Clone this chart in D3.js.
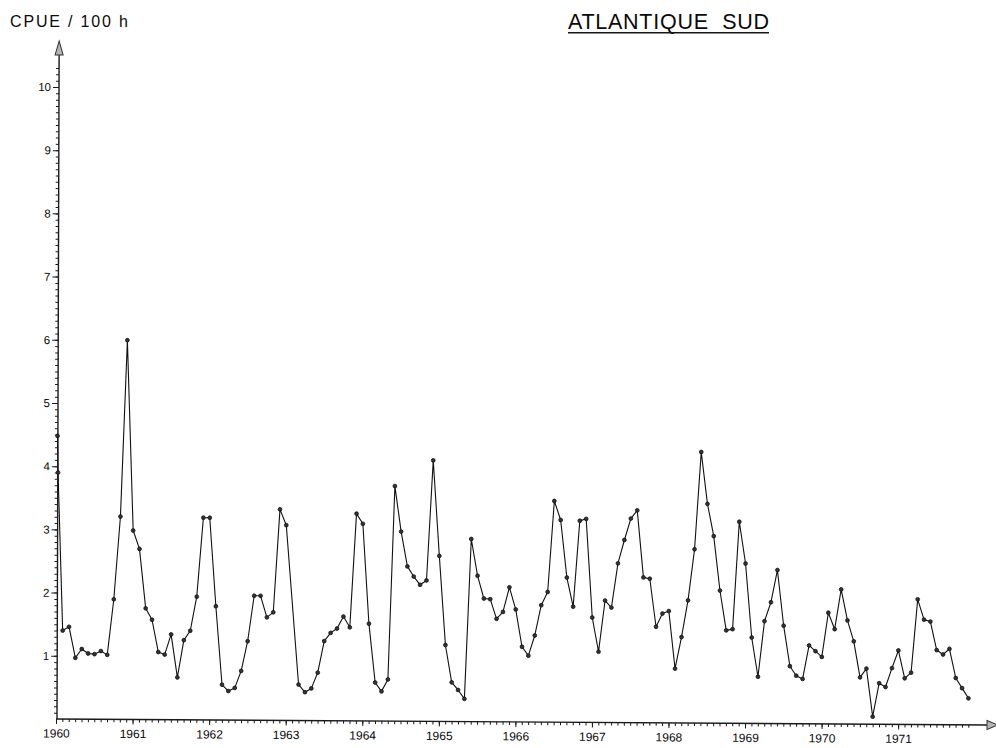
<!DOCTYPE html>
<html><head><meta charset="utf-8">
<script src="https://cdn.jsdelivr.net/npm/d3@7"></script>
<style>
body{margin:0;background:#fff}
svg text{font-family:"Liberation Sans",Arial,sans-serif;fill:#0a0a0a}
</style>
</head><body>
<svg id="chart" width="996" height="748"></svg>
<script>
// ---- data (CPUE per 100 h, monthly, Atlantique Sud) ----
const yearLabels = ["1960","1961","1962","1963","1964","1965","1966","1967","1968","1969","1970","1971"];
const leadValues = [4.48, 3.90];          // two readings drawn on the 1960 origin
const leadMonths = [0.1, 0.2];            // months since Jan 1960
const v1960 = [1.40, 1.46, 0.97, 1.11, 1.04, 1.03, 1.08, 1.02, 1.90, 3.21, 6.00, 2.99];
const v1961 = [2.70, 1.76, 1.58, 1.07, 1.03, 1.35, 0.67, 1.26, 1.41, 1.95, 3.20, 3.20];
const v1962 = [1.80, 0.56, 0.46, 0.51, 0.78, 1.25, 1.97, 1.97, 1.63, 1.71, 3.34, 3.09];
const v1963 = [null, 0.57, 0.45, 0.51, 0.76, 1.26, 1.39, 1.46, 1.65, 1.48, 3.28, 3.12];
const v1964 = [1.54, 0.61, 0.47, 0.66, 3.72, 3.00, 2.45, 2.29, 2.16, 2.23, 4.13, 2.62];
const v1965 = [1.21, 0.62, 0.50, 0.36, 2.89, 2.31, 1.95, 1.94, 1.63, 1.74, 2.13, 1.78];
const v1966 = [1.19, 1.05, 1.37, 1.85, 2.06, 3.50, 3.20, 2.29, 1.83, 3.19, 3.22, 1.66];
const v1967 = [1.12, 1.93, 1.82, 2.52, 2.89, 3.23, 3.36, 2.30, 2.28, 1.52, 1.73, 1.77];
const v1968 = [0.86, 1.36, 1.94, 2.75, 4.29, 3.47, 2.96, 2.10, 1.47, 1.49, 3.19, 2.53];
const v1969 = [1.36, 0.74, 1.62, 1.92, 2.43, 1.55, 0.91, 0.76, 0.71, 1.24, 1.15, 1.06];
const v1970 = [1.76, 1.50, 2.13, 1.64, 1.31, 0.74, 0.88, 0.12, 0.65, 0.59, 0.89, 1.17];
const v1971 = [0.73, 0.82, 1.98, 1.66, 1.63, 1.18, 1.11, 1.20, 0.74, 0.58, 0.42, null];
const yTickValues = [1,2,3,4,5,6,7,8,9,10];
const titleText = "ATLANTIQUE  SUD";
const yUnitText = "CPUE / 100 h";

// ---- build points ----
const yearly = [v1960,v1961,v1962,v1963,v1964,v1965,v1966,v1967,v1968,v1969,v1970,v1971];
const points = leadValues.map((v,i)=>({t:leadMonths[i], v}));
yearly.forEach((arr,yi)=>arr.forEach((v,mi)=>{
  if(v!==null) points.push({t: yi*12 + mi + 1, v});
}));

// ---- layout ----
const svg = d3.select("#chart");
const x0 = 56, y0 = 719;
const x = d3.scaleLinear().domain([0,144]).range([x0, x0 + 144*6.38]);
const y = d3.scaleLinear().domain([0,10]).range([y0, 87]);

// slight tilt of the scanned plot
const g = svg.append("g")
  .attr("transform", `translate(${x0},${y0}) matrix(1,0.0064,-0.0032,1,0,0) translate(${-x0},${-y0})`);

// X axis: monthly minor ticks, yearly major ticks
const xMinor = g.append("g").attr("transform",`translate(0,${y0})`)
  .call(d3.axisBottom(x).tickValues(d3.range(0,144)).tickSize(3).tickFormat(""));
xMinor.select(".domain").remove();
const xMajor = g.append("g").attr("transform",`translate(0,${y0})`)
  .call(d3.axisBottom(x).tickValues(d3.range(0,144,12)).tickSize(5).tickPadding(5)
        .tickFormat((d,i)=>yearLabels[i]));
xMajor.select(".domain").remove();
xMajor.selectAll("text").attr("font-size",12).attr("fill","#0a0a0a");

// x axis line + arrow
g.append("line").attr("x1",x0).attr("x2",988).attr("y1",y0).attr("y2",y0)
  .attr("stroke","#1a1a1a").attr("stroke-width",1.4);
g.append("path").attr("d",`M987,${y0-4.5} L998,${y0} L987,${y0+4.5} Z`)
  .attr("fill","#b5b5b5").attr("stroke","#333").attr("stroke-width",1);

// Y axis: 0.1 minor, integer majors
const yMinor = g.append("g").attr("transform",`translate(${x0+1},0)`)
  .call(d3.axisLeft(y).tickValues(d3.range(1,104).map(d=>d/10)).tickSize(3).tickFormat(""));
yMinor.select(".domain").remove();
const yMajor = g.append("g").attr("transform",`translate(${x0+1},0)`)
  .call(d3.axisLeft(y).tickValues(yTickValues).tickSize(6).tickPadding(2).tickFormat(d3.format("d")));
yMajor.select(".domain").remove();
yMajor.selectAll("text").attr("font-size",11.5).attr("fill","#0a0a0a");
g.selectAll(".tick line").attr("stroke","#1a1a1a").attr("stroke-width",1);

g.append("line").attr("x1",x0+1).attr("x2",x0+1).attr("y1",y0).attr("y2",54)
  .attr("stroke","#1a1a1a").attr("stroke-width",1.4);
g.append("path").attr("d",`M${x0+1-4},55 L${x0+1},41 L${x0+1+4},55 Z`)
  .attr("fill","#b5b5b5").attr("stroke","#333").attr("stroke-width",1);

// data line + dots
const line = d3.line().x(d=>x(d.t)).y(d=>y(d.v));
g.append("path").datum(points).attr("d",line)
  .attr("fill","none").attr("stroke","#111").attr("stroke-width",1.1).attr("stroke-linejoin","round");
g.selectAll("circle.pt").data(points).join("circle").attr("class","pt")
  .attr("cx",d=>x(d.t)).attr("cy",d=>y(d.v)).attr("r",1.9)
  .attr("fill","#333").attr("stroke","#111").attr("stroke-width",0.8);

// texts
svg.append("text").attr("x",10).attr("y",26.5).attr("font-size",16)
  .attr("textLength",118).attr("lengthAdjust","spacing").text(yUnitText);
svg.append("text").attr("x",568).attr("y",29.3).attr("font-size",21.5)
  .attr("textLength",201).attr("lengthAdjust","spacing")
  .style("white-space","pre").text(titleText);
svg.append("line").attr("x1",568).attr("x2",769).attr("y1",32.8).attr("y2",32.8)
  .attr("stroke","#161616").attr("stroke-width",1.5);
</script>
</body></html>
